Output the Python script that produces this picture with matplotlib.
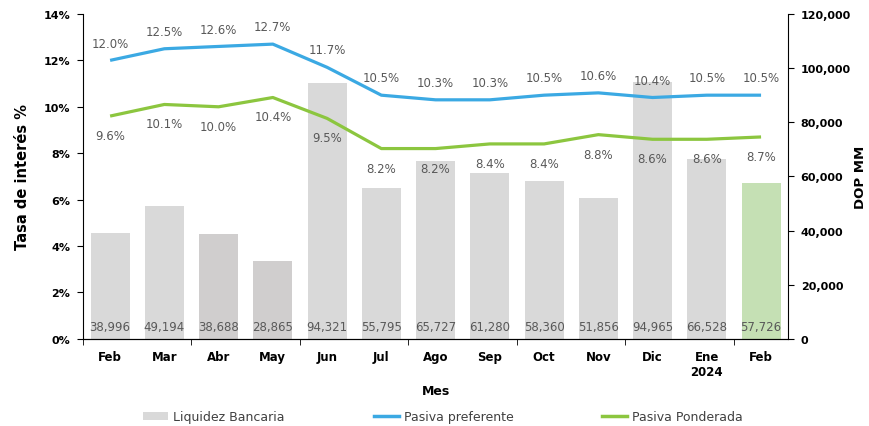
import matplotlib
matplotlib.use("Agg")
import matplotlib.pyplot as plt
from matplotlib.patches import Patch
from matplotlib.lines import Line2D
from matplotlib.ticker import FuncFormatter, FixedLocator, NullFormatter

months = ["Feb", "Mar", "Abr", "May", "Jun", "Jul", "Ago", "Sep", "Oct", "Nov", "Dic", "Ene\n2024", "Feb"]
liquidez = [38996, 49194, 38688, 28865, 94321, 55795, 65727, 61280, 58360, 51856, 94965, 66528, 57726]
preferente = [12.0, 12.5, 12.6, 12.7, 11.7, 10.5, 10.3, 10.3, 10.5, 10.6, 10.4, 10.5, 10.5]
ponderada = [9.6, 10.1, 10.0, 10.4, 9.5, 8.2, 8.2, 8.4, 8.4, 8.8, 8.6, 8.6, 8.7]

BLUE = "#3BA9E3"
GREEN = "#8CC63F"
GREY = "#D9D9D9"
GREY_DARK = "#D0CECE"
GREEN_BAR = "#C5E0B4"
TXT = "#595959"

bar_colors = [GREY, GREY, GREY_DARK, GREY_DARK] + [GREY] * 8 + [GREEN_BAR]

plt.rcParams["font.family"] = ["DejaVu Sans"]

fig = plt.figure(figsize=(8.69, 4.27), dpi=100)
ax = fig.add_axes([0.0955, 0.204, 0.8115, 0.761])
ax2 = ax.twinx()

x = list(range(len(months)))

# bars on the right axis
ax2.bar(x, liquidez, width=0.72, color=bar_colors, zorder=1)
for i, v in enumerate(liquidez):
    ax2.annotate(f"{v:,}", xy=(i, 0), xytext=(0, 9), textcoords="offset points",
                 ha="center", va="center", fontsize=8.5, color=TXT)
ax2.set_ylim(0, 120000)
ax2.set_yticks(range(0, 120001, 20000))
ax2.yaxis.set_major_formatter(FuncFormatter(lambda v, p: f"{int(v):,}"))
ax2.set_ylabel("DOP MM", fontsize=9.5, fontweight="bold")
ax2.yaxis.set_label_coords(1.093, 0.5)

# lines on the left axis, drawn above bars
ax.set_zorder(ax2.get_zorder() + 1)
ax.patch.set_visible(False)
ax.plot(x, preferente, color=BLUE, lw=2.3, solid_capstyle="butt")
ax.plot(x, ponderada, color=GREEN, lw=2.3, solid_capstyle="butt")
for i, v in enumerate(preferente):
    ax.annotate(f"{v:.1f}%", xy=(i, v), xytext=(0, 12.5), textcoords="offset points",
                ha="center", va="center", fontsize=8.5, color=TXT)
for i, v in enumerate(ponderada):
    ax.annotate(f"{v:.1f}%", xy=(i, v), xytext=(0, -14), textcoords="offset points",
                ha="center", va="center", fontsize=8.5, color=TXT)

ax.set_ylim(0, 14)
ax.set_yticks(range(0, 15, 2))
ax.yaxis.set_major_formatter(FuncFormatter(lambda v, p: f"{int(v)}%"))
ax.set_xlim(-0.5, len(months) - 0.5)
ax.set_xticks(x)
ax.set_xticklabels(months, fontsize=8.5, fontweight="bold")
ax.tick_params(axis="x", which="major", length=0, pad=8)
ax.xaxis.set_minor_locator(FixedLocator([-0.5, 1.5, 3.5, 5.5, 7.5, 9.5, 11.5]))
ax.xaxis.set_minor_formatter(NullFormatter())
ax.tick_params(axis="x", which="minor", length=4, direction="out")
ax.set_xlabel("Mes", fontsize=9, fontweight="bold", labelpad=4)
ax.set_ylabel("Tasa de interés %", fontsize=10.5, fontweight="bold", labelpad=10)

for a in (ax, ax2):
    a.tick_params(axis="y", labelsize=8, length=4, direction="out", pad=5)
    for lab in a.get_yticklabels():
        lab.set_fontweight("bold")
    a.spines["top"].set_visible(False)
    a.spines["left"].set_visible(False)
    a.spines["right"].set_visible(False)
ax.spines["left"].set_visible(True)
ax2.spines["right"].set_visible(True)
ax.spines["bottom"].set_visible(True)

handles = [
    Patch(facecolor=GREY, edgecolor="none", label="Liquidez Bancaria"),
    Line2D([0], [0], color=BLUE, lw=2.5, label="Pasiva preferente"),
    Line2D([0], [0], color=GREEN, lw=2.5, label="Pasiva Ponderada"),
]
fig.legend(handles=handles, loc="center", bbox_to_anchor=(0.51, 0.022), ncol=3,
           frameon=False, fontsize=9, columnspacing=7.1, handlelength=2.0,
           handleheight=0.6, handletextpad=0.4, labelcolor="#404040")

fig.savefig("out.png", dpi=100)
